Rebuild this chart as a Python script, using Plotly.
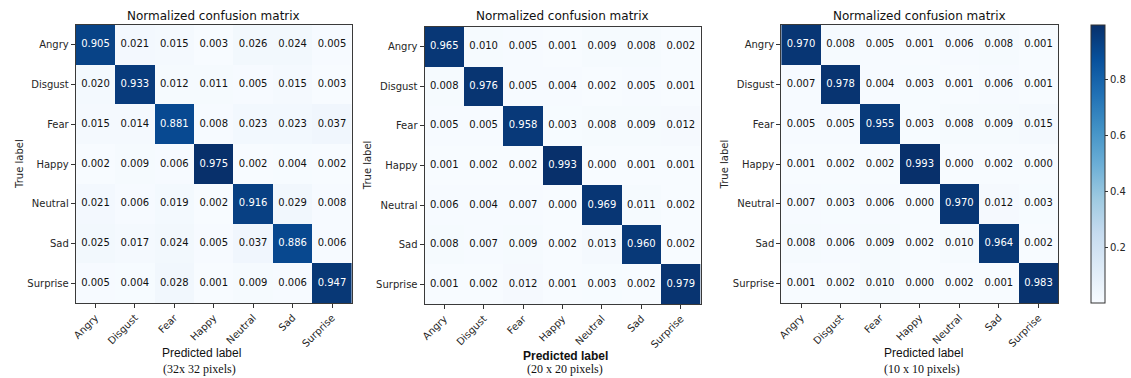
import numpy as np
import plotly.graph_objects as go

# Emotion classes (rows = true label, columns = predicted label)
classes = ["Angry", "Disgust", "Fear", "Happy", "Neutral", "Sad", "Surprise"]

# Normalized confusion matrices for three input resolutions
cm_32 = [
    [0.905, 0.021, 0.015, 0.003, 0.026, 0.024, 0.005],
    [0.020, 0.933, 0.012, 0.011, 0.005, 0.015, 0.003],
    [0.015, 0.014, 0.881, 0.008, 0.023, 0.023, 0.037],
    [0.002, 0.009, 0.006, 0.975, 0.002, 0.004, 0.002],
    [0.021, 0.006, 0.019, 0.002, 0.916, 0.029, 0.008],
    [0.025, 0.017, 0.024, 0.005, 0.037, 0.886, 0.006],
    [0.005, 0.004, 0.028, 0.001, 0.009, 0.006, 0.947],
]
cm_20 = [
    [0.965, 0.010, 0.005, 0.001, 0.009, 0.008, 0.002],
    [0.008, 0.976, 0.005, 0.004, 0.002, 0.005, 0.001],
    [0.005, 0.005, 0.958, 0.003, 0.008, 0.009, 0.012],
    [0.001, 0.002, 0.002, 0.993, 0.000, 0.001, 0.001],
    [0.006, 0.004, 0.007, 0.000, 0.969, 0.011, 0.002],
    [0.008, 0.007, 0.009, 0.002, 0.013, 0.960, 0.002],
    [0.001, 0.002, 0.012, 0.001, 0.003, 0.002, 0.979],
]
cm_10 = [
    [0.970, 0.008, 0.005, 0.001, 0.006, 0.008, 0.001],
    [0.007, 0.978, 0.004, 0.003, 0.001, 0.006, 0.001],
    [0.005, 0.005, 0.955, 0.003, 0.008, 0.009, 0.015],
    [0.001, 0.002, 0.002, 0.993, 0.000, 0.002, 0.000],
    [0.007, 0.003, 0.006, 0.000, 0.970, 0.012, 0.003],
    [0.008, 0.006, 0.009, 0.002, 0.010, 0.964, 0.002],
    [0.001, 0.002, 0.010, 0.000, 0.002, 0.001, 0.983],
]
matrices = [cm_32, cm_20, cm_10]
captions = ["(32x 32 pixels)", "(20 x 20 pixels)", "(10 x 10 pixels)"]

W, H = 1131, 378

# Panel placement in pixels: (left, right, top, bottom)
panels_px = [(72, 349, 25, 303), (422, 699, 27, 304), (780, 1058, 25, 303)]
xlabel_px = [(198, 353, False), (563, 356, True), (923, 353, False)]
caption_px = [(196, 369), (563, 369), (921, 369)]

# matplotlib "Blues" colormap
blues = [
    [0.000, "rgb(247,251,255)"],
    [0.125, "rgb(222,235,247)"],
    [0.250, "rgb(198,219,239)"],
    [0.375, "rgb(158,202,225)"],
    [0.500, "rgb(107,174,214)"],
    [0.625, "rgb(66,146,198)"],
    [0.750, "rgb(33,113,181)"],
    [0.875, "rgb(8,81,156)"],
    [1.000, "rgb(8,48,107)"],
]

FONT = "DejaVu Sans"
INK = "#262626"

fig = go.Figure()
annotations = []

for i, cm in enumerate(matrices):
    z = np.array(cm)
    zmin, zmax = float(z.min()), float(z.max())
    suffix = "" if i == 0 else str(i + 1)
    xa, ya = "x" + suffix, "y" + suffix
    last = i == len(matrices) - 1

    fig.add_trace(go.Heatmap(
        z=z, x=classes, y=classes,
        zmin=zmin, zmax=zmax,
        colorscale=blues,
        showscale=last,
        colorbar=dict(
            x=1091 / W, xanchor="left", xpad=0,
            y=1 - 303 / H, yanchor="bottom", ypad=0,
            len=(303 - 25) / H, lenmode="fraction",
            thickness=14, thicknessmode="pixels",
            outlinecolor="#333", outlinewidth=1,
            tickvals=[0.2, 0.4, 0.6, 0.8],
            ticks="outside", ticklen=3, tickcolor="#333",
            tickfont=dict(family=FONT, size=10, color=INK),
        ),
        hoverinfo="skip",
        xaxis=xa, yaxis=ya,
    ))

    # Cell values: white on dark cells, black on light ones
    thresh = zmax / 2.0
    xs, ys, txt, cols = [], [], [], []
    for r, true_lab in enumerate(classes):
        for c, pred_lab in enumerate(classes):
            xs.append(pred_lab)
            ys.append(true_lab)
            txt.append(f"{z[r, c]:.3f}")
            cols.append("white" if z[r, c] > thresh else "#111111")
    fig.add_trace(go.Scatter(
        x=xs, y=ys, mode="text", text=txt,
        textfont=dict(family=FONT, size=10, color=cols),
        hoverinfo="skip", showlegend=False,
        xaxis=xa, yaxis=ya,
    ))

    left, right, top, bottom = panels_px[i]
    axis_common = dict(
        showline=True, mirror=True, linecolor="#3a3a3a", linewidth=1,
        ticks="outside", ticklen=4, tickcolor="#333", tickwidth=1,
        tickfont=dict(family=FONT, size=10, color=INK),
        showgrid=False, zeroline=False, fixedrange=True,
        type="category", categoryorder="array", categoryarray=classes,
    )
    fig.update_layout(**{
        ("xaxis" + suffix): dict(
            axis_common, domain=[left / W, right / W],
            anchor=ya, range=[-0.5, 6.5], tickangle=-45,
        ),
        ("yaxis" + suffix): dict(
            axis_common, domain=[1 - bottom / H, 1 - top / H],
            anchor=xa, range=[6.5, -0.5],
        ),
    })

    cx = (left + right) / 2
    annotations.append(dict(
        text="Normalized confusion matrix", x=cx / W, y=1 - 16 / H,
        xref="paper", yref="paper", showarrow=False,
        xanchor="center", yanchor="middle",
        font=dict(family=FONT, size=12, color="#111"),
    ))
    annotations.append(dict(
        text="True label", x=(left - 57) / W, y=1 - ((top + bottom) / 2) / H,
        xref="paper", yref="paper", showarrow=False, textangle=-90,
        xanchor="center", yanchor="middle",
        font=dict(family=FONT, size=10, color=INK),
    ))
    lx, ly, bold = xlabel_px[i]
    annotations.append(dict(
        text=("<b>Predicted label</b>" if bold else "Predicted label"),
        x=lx / W, y=1 - ly / H,
        xref="paper", yref="paper", showarrow=False,
        xanchor="center", yanchor="middle",
        font=dict(family="Liberation Sans", size=12, color="#111"),
    ))
    capx, capy = caption_px[i]
    annotations.append(dict(
        text=captions[i], x=capx / W, y=1 - capy / H,
        xref="paper", yref="paper", showarrow=False,
        xanchor="center", yanchor="middle",
        font=dict(family="Liberation Serif", size=12, color="#111"),
    ))

fig.update_layout(
    width=W, height=H,
    margin=dict(l=0, r=0, t=0, b=0),
    paper_bgcolor="white", plot_bgcolor="white",
    showlegend=False,
    annotations=annotations,
)

fig.write_html("out.html")
